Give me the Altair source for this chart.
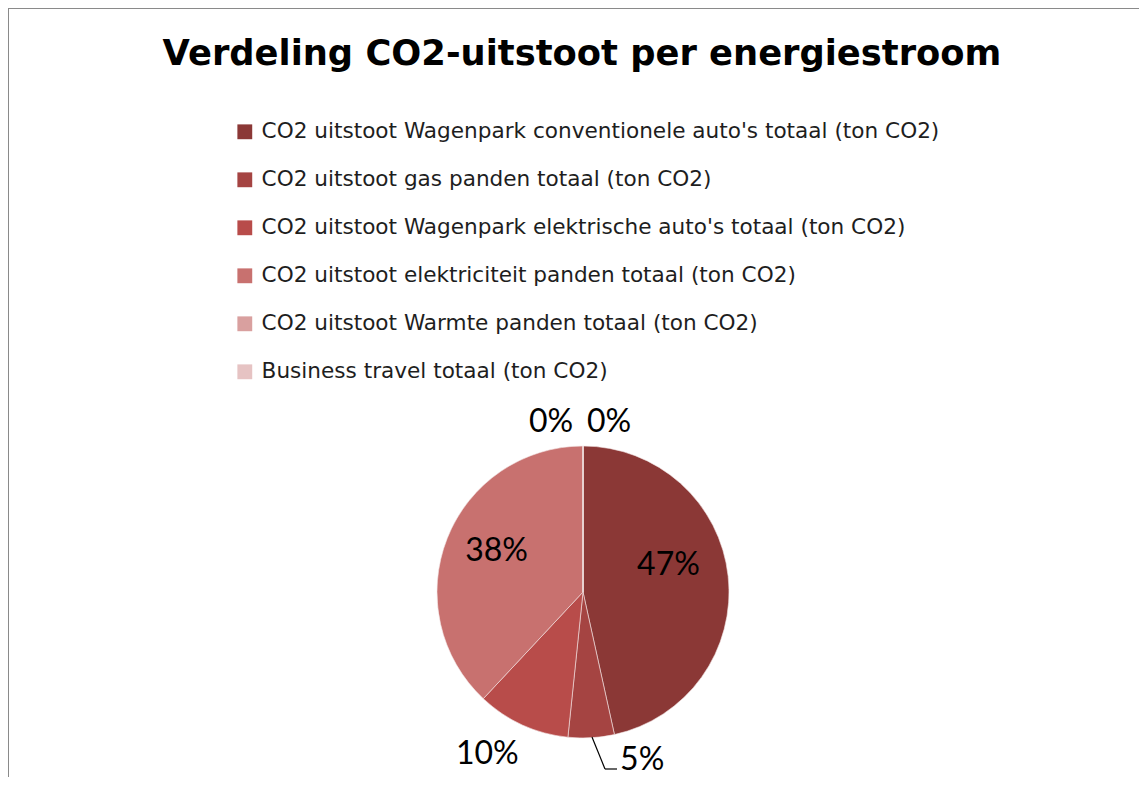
import altair as alt
import pandas as pd

categories = [
    "CO2 uitstoot Wagenpark conventionele auto's totaal (ton CO2)",
    "CO2 uitstoot gas panden totaal (ton CO2)",
    "CO2 uitstoot Wagenpark elektrische auto's totaal (ton CO2)",
    "CO2 uitstoot elektriciteit panden totaal (ton CO2)",
    "CO2 uitstoot Warmte panden totaal (ton CO2)",
    "Business travel totaal (ton CO2)",
]
values = [46.5, 5.1, 10.3, 38.0, 0.0, 0.0]
colors = ["#8B3836", "#A54442", "#B84C4A", "#C8716F", "#D9A09F", "#E6C3C3"]
title_text = "Verdeling CO2-uitstoot per energiestroom"

df = pd.DataFrame({"category": categories, "value": values, "idx": list(range(len(categories)))})

W, H = 1131, 769
CX, CY = 575, 584
R = 146
FONT = "DejaVu Sans"
LFONT = "Lato"

base = alt.Chart(df).transform_joinaggregate(total="sum(value)").transform_calculate(
    pct="datum.value / datum.total"
)

theta = alt.Theta("value:Q", stack=True)
order = alt.Order("idx:Q", sort="ascending")

pie = base.mark_arc(outerRadius=R, stroke="#f4e6e6", strokeWidth=0.6).encode(
    theta=theta,
    order=order,
    x=alt.value(CX),
    y=alt.value(CY),
    color=alt.Color(
        "category:N",
        sort=categories,
        scale=alt.Scale(domain=categories, range=colors),
        legend=alt.Legend(
            orient="none",
            legendX=226,
            legendY=113,
            title=None,
            symbolType="square",
            symbolSize=220,
            symbolStrokeWidth=0,
            labelFont=FONT,
            labelFontSize=21.6,
            labelColor="#1e1e1e",
            labelOffset=6,
            labelLimit=0,
            rowPadding=25.0,
            padding=0,
        ),
    ),
)

# per-label placement (radius, dx, dy) : style only
placements = [
    (90, -4, -17),
    (180, 49, -12),
    (180, -21, -2),
    (95, 2, -6),
    (180, -32, 10),
    (180, 26, 10),
]

label_layers = []
for i, (rad, dx, dy) in enumerate(placements):
    label_layers.append(
        base.mark_text(radius=rad, dx=dx, dy=dy, font=LFONT, fontSize=32, color="#000000",
                       align="center", baseline="middle").encode(
            theta=theta,
            order=order,
            x=alt.value(CX),
            y=alt.value(CY),
            text=alt.condition(f"datum.idx == {i}", alt.Text("pct:Q", format=".0%"), alt.value("")),
        )
    )

one = pd.DataFrame({"k": [0]})
leader1 = alt.Chart(one).mark_rule(color="#000000", strokeWidth=1.2).encode(
    x=alt.value(592 - 8), y=alt.value(737 - 8), x2=alt.value(605 - 8), y2=alt.value(769 - 8)
)
leader2 = alt.Chart(one).mark_rule(color="#000000", strokeWidth=1.2).encode(
    x=alt.value(605 - 8), y=alt.value(769 - 8), x2=alt.value(617 - 8), y2=alt.value(769 - 8)
)
border_top = alt.Chart(one).mark_rule(color="#8a8a8a", strokeWidth=2).encode(
    x=alt.value(0), x2=alt.value(W), y=alt.value(0)
)
border_left = alt.Chart(one).mark_rule(color="#8a8a8a", strokeWidth=2).encode(
    x=alt.value(0), y=alt.value(0), y2=alt.value(H)
)
title = alt.Chart(one).mark_text(font=FONT, fontSize=35.3, fontWeight="bold", color="#000000",
                                 align="center", baseline="alphabetic").encode(
    x=alt.value(574), y=alt.value(57), text=alt.value(title_text)
)

chart = alt.layer(pie, *label_layers, leader1, leader2, border_top, border_left, title).properties(
    width=W, height=H, autosize=alt.AutoSizeParams(type="none"), padding=0, background="white"
).configure_view(stroke=None)

chart.save("out.html", embed_options={"renderer": "svg", "actions": False})
